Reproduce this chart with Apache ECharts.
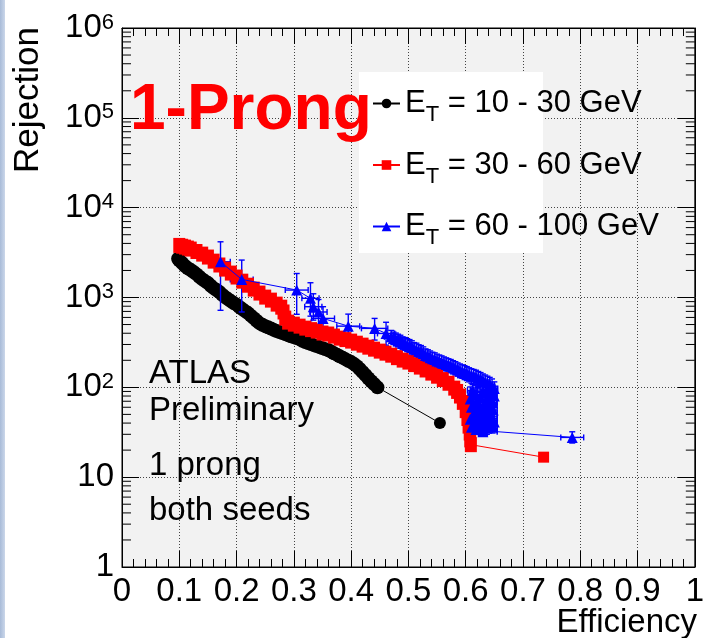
<!DOCTYPE html>
<html>
<head>
<meta charset="utf-8">
<script src="https://cdn.jsdelivr.net/npm/echarts@6/dist/echarts.min.js"></script>
<style>
html,body{margin:0;padding:0;background:#fff;}
#c{width:707px;height:638px;}
</style>
</head>
<body>
<div id="c"></div>
<script>
// ---------------- data ----------------
const seriesNames = ['E_T = 10 - 30 GeV', 'E_T = 30 - 60 GeV', 'E_T = 60 - 100 GeV'];
const xTickLabels = ['0','0.1','0.2','0.3','0.4','0.5','0.6','0.7','0.8','0.9','1'];
const yTickLabels = ['1','10','10^2','10^3','10^4','10^5','10^6'];
const yMinorMultipliers = [2,3,4,5,6,7,8,9];
const yDecades = [1,10,100,1000,10000,100000];

// E_T = 10 - 30 GeV (black circles)
const blackX = [0.098,0.100,0.105,0.110,0.115,0.120,0.125,0.130,0.135,0.140,0.145,0.150,0.155,0.160,0.165,0.170,0.175,0.180,0.185,0.190,0.195,0.200,0.205,0.210,0.215,0.220,0.225,0.230,0.235,0.240,0.245,0.250,0.255,0.260,0.265,0.270,0.275,0.280,0.285,0.290,0.295,0.300,0.305,0.310,0.315,0.320,0.325,0.330,0.335,0.340,0.345,0.350,0.355,0.360,0.365,0.370,0.375,0.380,0.385,0.390,0.395,0.400,0.405,0.410,0.415,0.420,0.425,0.430,0.435,0.440,0.446,0.555];
const blackY = [2700,2600,2420,2240,2120,2020,1920,1820,1700,1600,1520,1450,1350,1270,1210,1150,1075,1010,960,912,870,833,785,743,705,670,628,589,550,518,497,480,465,451,436,423,412,402,391,381,371,362,353,344,330,319,311,303,295,288,280,273,266,260,250,240,231,222,214,206,198,191,182,172,160,148,137,126,117,109,100,40];

// E_T = 30 - 60 GeV (red squares)
const redX = [0.100,0.105,0.110,0.115,0.120,0.130,0.140,0.150,0.160,0.170,0.180,0.190,0.200,0.210,0.220,0.230,0.240,0.250,0.260,0.270,0.278,0.282,0.285,0.290,0.300,0.310,0.320,0.330,0.340,0.350,0.360,0.370,0.380,0.390,0.400,0.410,0.420,0.430,0.440,0.450,0.460,0.470,0.480,0.490,0.500,0.510,0.520,0.530,0.540,0.550,0.560,0.570,0.580,0.585,0.590,0.595,0.600,0.603,0.605,0.607,0.608,0.609,0.736];
const redY = [3800,3720,3640,3550,3460,3250,3040,2820,2540,2300,2070,1870,1690,1520,1370,1240,1120,1010,935,844,780,690,590,532,505,480,456,439,423,402,392,372,353,340,327,310,295,280,266,253,240,228,214,201,191,179,168,156,144,133,122,111,98,90,80,68,55,45,37,31,26,23,16.7];

// E_T = 60 - 100 GeV (blue triangles, with error bars)
const blueX = [0.172,0.209,0.305,0.329,0.334,0.343,0.351,0.395,0.441,0.461,
  0.470,0.474,0.478,0.482,0.486,0.490,0.494,0.498,0.502,0.506,0.510,0.514,0.518,0.522,0.526,0.530,0.534,0.538,0.542,0.546,0.550,0.554,0.558,0.562,0.566,0.570,0.574,0.578,0.582,0.586,0.590,0.594,0.598,0.602,0.606,0.610,0.614,0.618,0.622,0.626,0.630,0.634,0.638,0.642,0.646,0.650,
  0.645,0.612,0.630,0.640,0.618,0.650,0.625,0.608,0.636,0.620,0.646,0.614,0.632,0.642,0.610,0.626,0.648,0.617,0.638,0.622,0.612,0.644,0.629,0.608,0.640,0.620,0.650,0.615,0.634,0.624,0.647,0.610,0.637,0.618,0.630,0.630,
  0.786];
const blueY = [2500,1590,1210,980,790,690,585,480,453,398,
  365,350,340,330,322,309,303,294,288,280,266,262,252,246,238,226,222,214,208,204,197,193,189,184,180,175,172,167,163,158,153,150,146,143,139,135,133,130,126,122,118,115,111,107,102,97,
  96,92,89,86,83,80,77,74,72,70,68,66,64,62,60,58,56,54,52,50,48,47,45,44,43,42,41,40,39,38,37,36,35,34,33,32,
  27.7];
const blueLo = [720,690,650,620,560,500,430,336,336,295,
  310,300,290,282,272,262,258,250,245,238,226,222,214,208,202,192,188,182,176,172,166,163,160,155,152,148,145,141,137,133,128,126,122,119,115,111,109,106,102,98,94,90,86,80,74,66,
  62,58,56,54,52,50,48,46,45,44,43,42,41,40,39,38,37,36,35,35,34,34,33,33,33,32,32,32,31,31,31,31,30,30,30,30,
  24];
const blueHi = [4170,2610,1850,1460,1100,950,790,653,585,530,
  430,412,402,390,380,365,358,348,340,330,315,310,298,292,282,268,262,254,246,242,234,229,224,218,213,208,204,198,193,187,182,178,174,170,165,161,158,155,150,146,141,137,133,129,124,115,
  108,107,106,105,104,103,102,101,100,99,98,96,94,92,90,88,86,84,82,80,78,76,74,72,70,68,66,64,62,60,58,56,54,52,50,48,
  32];
const blueXErr = [0.017,0.02,0.02,0.015,0.015,0.015,0.02,0.02,0.023,0.015,
  0.012,0.01,0.01,0.01,0.009,0.009,0.009,0.008,0.008,0.008,0.008,0.008,0.007,0.007,0.007,0.007,0.007,0.007,0.006,0.006,0.006,0.006,0.006,0.006,0.006,0.006,0.006,0.005,0.005,0.005,0.005,0.005,0.005,0.005,0.005,0.005,0.005,0.005,0.005,0.005,0.005,0.005,0.005,0.005,0.005,0.006,
  0.010,0.009,0.020,0.014,0.014,0.005,0.020,0.005,0.018,0.016,0.009,0.011,0.022,0.013,0.007,0.023,0.007,0.014,0.017,0.019,0.009,0.011,0.026,0.005,0.015,0.017,0.005,0.012,0.021,0.021,0.008,0.007,0.018,0.015,0.025,0.025,
  0.02];

// ---------------- chart ----------------
const FONT = '"Liberation Sans", Arial, Helvetica, sans-serif';
const chart = echarts.init(document.getElementById('c'), null, {renderer: 'canvas'});

const pairs = (xs, ys) => xs.map((x, i) => [x, ys[i]]);
const yMinor = [];
yDecades.forEach(d => yMinorMultipliers.forEach(m => yMinor.push([0, d * m])));

function errSeries(xs, ys, lo, hi, xe, color) {
  return {
    type: 'custom',
    silent: true,
    z: 4,
    data: xs.map((x, i) => [x, ys[i], lo[i], hi[i], xe[i]]),
    encode: {x: 0, y: 1},
    renderItem: function (params, api) {
      const x = api.value(0), y = api.value(1), l = api.value(2), h = api.value(3), e = api.value(4);
      const c = api.coord([x, y]);
      const pl = api.coord([x, l]), ph = api.coord([x, h]);
      const pa = api.coord([x - e, y]), pb = api.coord([x + e, y]);
      const cap = 3;
      const st = {stroke: color, lineWidth: 1.4};
      return {type: 'group', children: [
        {type: 'line', shape: {x1: c[0], y1: pl[1], x2: c[0], y2: ph[1]}, style: st},
        {type: 'line', shape: {x1: c[0] - cap, y1: pl[1], x2: c[0] + cap, y2: pl[1]}, style: st},
        {type: 'line', shape: {x1: c[0] - cap, y1: ph[1], x2: c[0] + cap, y2: ph[1]}, style: st},
        {type: 'line', shape: {x1: pa[0], y1: c[1], x2: pb[0], y2: c[1]}, style: st},
        {type: 'line', shape: {x1: pa[0], y1: c[1] - cap, x2: pa[0], y2: c[1] + cap}, style: st},
        {type: 'line', shape: {x1: pb[0], y1: c[1] - cap, x2: pb[0], y2: c[1] + cap}, style: st}
      ]};
    }
  };
}

const gridLine = {show: true, lineStyle: {color: '#444', width: 1, type: [1, 2]}};
const xAxisBase = {
  type: 'value', min: 0, max: 1, interval: 0.1,
  axisLine: {show: true, onZero: false, lineStyle: {color: '#000', width: 1}},
  axisTick: {show: true, inside: true, length: 16, lineStyle: {color: '#000', width: 1}},
  minorTick: {show: true, splitNumber: 5, length: 8, lineStyle: {color: '#000', width: 1}}
};
const yAxisBase = {
  type: 'log', logBase: 10, min: 1, max: 1000000, splitNumber: 6,
  axisLine: {show: true, onZero: false, lineStyle: {color: '#000', width: 1}},
  axisTick: {show: true, inside: true, length: 17, lineStyle: {color: '#000', width: 1}},
  minorTick: {show: false}
};
const txt = (s, size, extra) => Object.assign({text: s, fontSize: size, fontFamily: FONT, fill: '#000',
  align: 'left', verticalAlign: 'middle', textAlign: 'left', textVerticalAlign: 'middle'}, extra || {});

const option = {
  animation: false,
  backgroundColor: '#fff',
  grid: {left: 122, right: 8, top: 28, bottom: 71, show: true, backgroundColor: '#f2f2f2', borderColor: '#000', borderWidth: 1},
  xAxis: [
    Object.assign({}, xAxisBase, {
      position: 'bottom',
      splitLine: gridLine,
      axisLabel: {
        show: true, color: '#000', fontSize: 33, fontFamily: FONT, margin: 8,
        showMinLabel: true, showMaxLabel: true,
        formatter: v => xTickLabels[Math.round(v * 10)]
      }
    }),
    Object.assign({}, xAxisBase, {position: 'top', splitLine: {show: false}, axisLabel: {show: false}})
  ],
  yAxis: [
    Object.assign({}, yAxisBase, {
      position: 'left',
      splitLine: gridLine,
      axisLabel: {
        show: true, color: '#000', margin: 8,
        showMinLabel: true, showMaxLabel: true,
        formatter: function (v) {
          const s = yTickLabels[Math.round(Math.log10(v))];
          if (s.indexOf('^') >= 0) {
            const parts = s.split('^');
            return '{b|' + parts[0] + '}{s|' + parts[1] + '}';
          }
          return '{b|' + s + '}';
        },
        rich: {
          b: {fontSize: 33, lineHeight: 33, fontFamily: FONT, color: '#000', verticalAlign: 'bottom'},
          s: {fontSize: 22, lineHeight: 22, fontFamily: FONT, color: '#000', verticalAlign: 'top', padding: [0, 0, 18, 0]}
        }
      }
    }),
    Object.assign({}, yAxisBase, {position: 'right', splitLine: {show: false}, axisLabel: {show: false}})
  ],
  legend: {
    data: seriesNames,
    orient: 'vertical',
    left: 372, top: 88, padding: 0,
    itemGap: 23.5, itemWidth: 27, itemHeight: 12,
    selectedMode: false,
    formatter: function (name) {
      return '{e|E}{t|T}{r|' + name.replace('E_T', '') + '}';
    },
    textStyle: {
      color: '#000',
      rich: {
        e: {fontSize: 31, lineHeight: 31, fontFamily: FONT, color: '#000', verticalAlign: 'top'},
        t: {fontSize: 22, lineHeight: 22, fontFamily: FONT, color: '#000', verticalAlign: 'top', padding: [16, 0, 0, 0]},
        r: {fontSize: 31, lineHeight: 31, fontFamily: FONT, color: '#000', verticalAlign: 'top'}
      }
    }
  },
  graphic: [
    {type: 'rect', x: 0, y: 0, shape: {x: 0, y: 0, width: 5, height: 638}, z: 0,
      style: {fill: new echarts.graphic.LinearGradient(0, 0, 1, 0, [{offset: 0, color: '#a8bbd8'}, {offset: 1, color: '#cbd7ea'}])}},
    {type: 'rect', shape: {x: 359, y: 72, width: 184, height: 181}, z: 1, style: {fill: '#fff'}},
    {type: 'text', x: 28, y: 100, rotation: Math.PI / 2, z: 5,
      style: txt('Rejection', 35, {align: 'center', textAlign: 'center'})},
    {type: 'text', x: 697, y: 623, z: 5,
      style: txt('Efficiency', 33, {align: 'right', textAlign: 'right'})},
    {type: 'text', x: 130, y: 111, z: 6,
      style: txt('1-Prong', 64, {fontWeight: 'bold', fill: '#ff0000'})},
    {type: 'text', x: 149, y: 374, z: 5, style: txt('ATLAS', 33)},
    {type: 'text', x: 149, y: 410.6, z: 5, style: txt('Preliminary', 33)},
    {type: 'text', x: 149, y: 466, z: 5, style: txt('1 prong', 33)},
    {type: 'text', x: 149, y: 510.6, z: 5, style: txt('both seeds', 33)}
  ],
  series: [
    {
      type: 'custom', silent: true, z: 3, clip: false,
      data: yMinor, encode: {x: 0, y: 1},
      renderItem: function (params, api) {
        const p = api.coord([0, api.value(1)]);
        const cs = params.coordSys;
        const st = {stroke: '#000', lineWidth: 1};
        return {type: 'group', children: [
          {type: 'line', shape: {x1: cs.x, y1: p[1], x2: cs.x + 9, y2: p[1]}, style: st},
          {type: 'line', shape: {x1: cs.x + cs.width - 9, y1: p[1], x2: cs.x + cs.width, y2: p[1]}, style: st}
        ]};
      }
    },
    {
      name: seriesNames[0], type: 'line', data: pairs(blackX, blackY), z: 3,
      symbol: 'circle', showSymbol: true, showAllSymbol: true,
      symbolSize: (v, p) => (p.dataIndex === blackX.length - 1 ? 12 : 14),
      lineStyle: {color: '#000', width: 1}, itemStyle: {color: '#000'}
    },
    {
      name: seriesNames[1], type: 'line', data: pairs(redX, redY), z: 4,
      symbol: 'rect', showSymbol: true, showAllSymbol: true,
      symbolSize: (v, p) => (p.dataIndex === redX.length - 1 ? 11 : [12, 15]),
      lineStyle: {color: '#ff0000', width: 1}, itemStyle: {color: '#ff0000'}
    },
    errSeries(blueX, blueY, blueLo, blueHi, blueXErr, '#0000ff'),
    {
      name: seriesNames[2], type: 'line', data: pairs(blueX, blueY), z: 5,
      symbol: 'triangle', symbolSize: 11, showSymbol: true, showAllSymbol: true,
      lineStyle: {color: '#0000ff', width: 1}, itemStyle: {color: '#0000ff'}
    }
  ]
};
chart.setOption(option);
</script>
</body>
</html>
